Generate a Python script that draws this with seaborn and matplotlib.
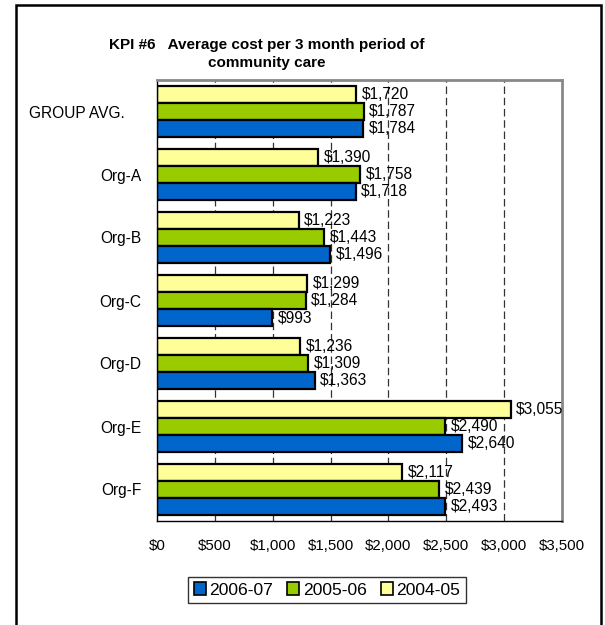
import pandas as pd
import matplotlib.pyplot as plt
import matplotlib.patches as mpatches
import seaborn as sns

# Dados do gráfico
categorias = ['GROUP AVG.', 'Org-A', 'Org-B', 'Org-C', 'Org-D', 'Org-E', 'Org-F']
custo_2006_07 = [1784, 1718, 1496, 993, 1363, 2640, 2493]
custo_2005_06 = [1787, 1758, 1443, 1284, 1309, 2490, 2439]
custo_2004_05 = [1720, 1390, 1223, 1299, 1236, 3055, 2117]
periodos = ['2006-07', '2005-06', '2004-05']
cores = {'2006-07': '#0066CC', '2005-06': '#99CC00', '2004-05': '#FFFF99'}
ticks_x = [0, 500, 1000, 1500, 2000, 2500, 3000, 3500]

sns.set_style('white')
plt.rcParams['font.family'] = ['Liberation Sans', 'DejaVu Sans']
plt.rcParams['text.color'] = 'black'
plt.rcParams['xtick.color'] = 'black'
plt.rcParams['ytick.color'] = 'black'

df = pd.DataFrame({
    'org': categorias * 3,
    'custo': custo_2006_07 + custo_2005_06 + custo_2004_05,
    'periodo': [p for p in periodos for _ in categorias],
})

fig = plt.figure(figsize=(6.05, 6.25), dpi=100)
ax = fig.add_axes([157 / 605, 1 - 521 / 625, 405 / 605, 441 / 625])

# Grade tracejada atrás das barras
for x in ticks_x[1:-1]:
    ax.axvline(x, color='#333333', linewidth=0.9, linestyle=(0, (6, 3)), zorder=0)

sns.barplot(data=df, y='org', x='custo', hue='periodo', order=categorias,
            hue_order=['2004-05', '2005-06', '2006-07'], palette=cores,
            saturation=1, orient='h', width=0.82, edgecolor='black', linewidth=1.6,
            errorbar=None, legend=False, ax=ax, zorder=2)

# Rótulos de valor
for cont in ax.containers:
    ax.bar_label(cont, labels=[f'${v:,.0f}' for v in cont.datavalues],
                 padding=4, fontsize=11.2, color='black')

ax.set_xlim(0, 3500)
ax.set_ylim(len(categorias) - 0.5, -0.5)
ax.set_xticks(ticks_x)
ax.set_xticklabels([f'${v:,}' for v in ticks_x], fontsize=10.8)
ax.set_yticks(range(len(categorias)))
# o rótulo do grupo fica um pouco mais à esquerda no original
ax.set_yticklabels([c + '    ' if c.startswith('GROUP') else c for c in categorias],
                   fontsize=11.2)
ax.set_yticks([i - 0.5 for i in range(len(categorias) + 1)], minor=True)
ax.tick_params(axis='y', which='major', length=0, pad=11)
ax.tick_params(axis='y', which='minor', length=5, width=1, direction='out', color='black')
ax.tick_params(axis='x', length=5, width=1, direction='out', color='black', pad=8)
ax.set_xlabel('')
ax.set_ylabel('')

for lado in ['top', 'right']:
    ax.spines[lado].set_color('#888888')
    ax.spines[lado].set_linewidth(2)
for lado in ['left', 'bottom']:
    ax.spines[lado].set_color('black')
    ax.spines[lado].set_linewidth(1)

# Título
fig.text(267 / 605, 1 - 54 / 625,
         'KPI #6   Average cost per 3 month period of\ncommunity care',
         ha='center', va='center', fontsize=11, fontweight='bold', color='black',
         multialignment='center', linespacing=1.35)

# Legenda
handles = [mpatches.Patch(facecolor=cores[p], edgecolor='black', linewidth=1.2, label=p)
           for p in periodos]
leg = fig.legend(handles=handles, loc='center', bbox_to_anchor=(327 / 605, 1 - 590 / 625),
                 ncol=3, fontsize=12.6, frameon=True, fancybox=False, edgecolor='black',
                 handlelength=0.7, handleheight=0.7, handletextpad=0.2,
                 columnspacing=0.8, borderpad=0.3, borderaxespad=0)
leg.get_frame().set_linewidth(1)

# Moldura externa
fig.patches.append(mpatches.Rectangle((16 / 605, -0.02), 585 / 605, 1 - 5 / 625 + 0.02,
                                      transform=fig.transFigure, fill=False,
                                      edgecolor='black', linewidth=1.8))

fig.savefig('out.png', dpi=100)
